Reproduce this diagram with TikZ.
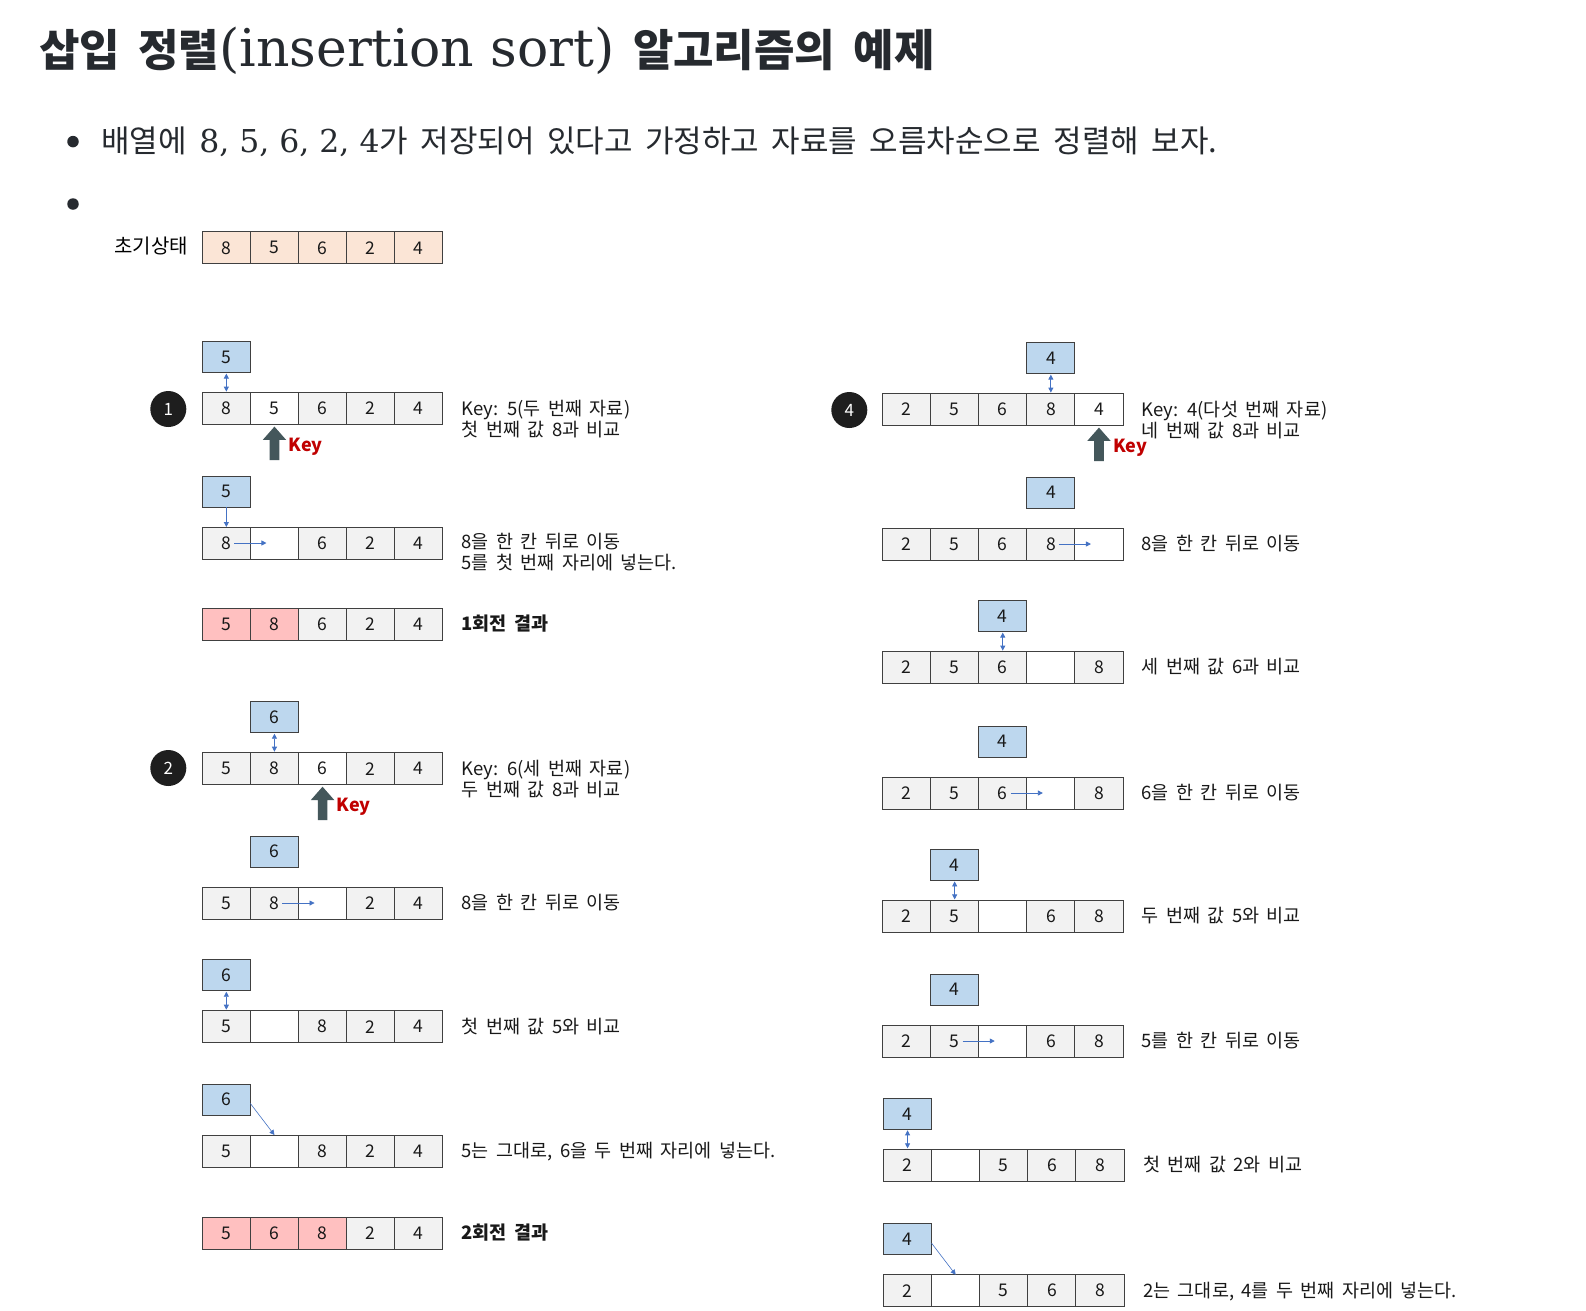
\documentclass[tikz,border=0pt]{standalone}
\usepackage{fontspec}
\usetikzlibrary{arrows.meta,calc}
\setmainfont{Noto Sans CJK KR}[WordSpace=1.8]
\newfontfamily\serifL{DejaVu Serif}
\newfontfamily\krtitle{Noto Sans CJK KR}
\definecolor{cg}{HTML}{F2F2F2}
\definecolor{cp}{HTML}{FBE5D6}
\definecolor{cr}{HTML}{FFC0C0}
\definecolor{cw}{HTML}{FFFFFF}
\definecolor{kbfill}{HTML}{BDD7EE}
\definecolor{bdcol}{HTML}{404040}
\definecolor{arcol}{HTML}{44575B}
\definecolor{keyred}{HTML}{C00000}
\definecolor{bluecol}{HTML}{4472C4}
\definecolor{titlecol}{HTML}{262A2F}
\definecolor{circcol}{HTML}{1E1E1E}
\tikzset{
  cell/.style={draw=bdcol, line width=0.9pt, minimum width=48.1pt, minimum height=32pt,
    inner sep=0pt, outer sep=0pt, font=\fontsize{17.5}{20}\selectfont, text=black!90},
  keybox/.style={cell, fill=kbfill, minimum height=31pt},
  bluearr/.style={draw=bluecol, line width=0.8pt, -{Triangle[length=5pt,width=5pt]}},
  bluedbl/.style={draw=bluecol, line width=0.8pt,
    {Triangle[length=5pt,width=5pt]}-{Triangle[length=5pt,width=5pt]},
    shorten <=1pt, shorten >=1pt},
  lbl/.style={anchor=base west, inner sep=0pt, font=\fontsize{18.5}{20}\selectfont, text=black!90},
  lblb/.style={lbl, font=\fontsize{18.5}{20}\selectfont\bfseries},
  keylabel/.style={anchor=west, inner sep=0pt, text=keyred, font=\fontsize{18}{20}\selectfont\bfseries},
  numc/.style={circle, fill=circcol, minimum size=36pt, inner sep=0pt, text=white,
    font=\fontsize{17}{20}\selectfont},
  bulletdot/.style={circle, fill=titlecol, minimum size=11.5pt, inner sep=0pt}
}
\newcommand\arrrow[4]{%
  \foreach \v/\f [count=\i] in {#4}{%
    \node[cell, fill=\f] (#1c\i) at ({#2+(\i-0.5)*48.1}, #3) {\v};
  }%
}
\newcommand\keyb[5]{%
  \node[keybox] (#1k) at ({#2+(#3-0.5)*48.1}, {#4-51.5}) {#5};
}
\newcommand\keyarrow[2]{%
  \fill[arcol, shift={(#1.south)}] (0,2) -- (11.7,15.3) -- (4.8,15.3) -- (4.8,35.5)
    -- (-4.8,35.5) -- (-4.8,15.3) -- (-11.7,15.3) -- cycle;
  \node[keylabel] (#2) at ($(#1.south)+(14,22)$) {Key};
}
\begin{document}
\begin{tikzpicture}[x=1pt,y=-1pt]
\fill[white] (0,0) rectangle (1586,1310);
\useasboundingbox (0,0) rectangle (1586,1310);

% title
\node[anchor=base west, inner sep=0pt, text=titlecol] (title) at (39,66)
  {\fontsize{44}{50}\selectfont\bfseries 삽입 정렬{\serifL\mdseries\fontsize{52}{50}\selectfont(insertion sort)} 알고리즘의 예제};

% bullets
\node[bulletdot] (bd1) at (73,141.6) {};
\node[bulletdot] (bd2) at (73,204) {};
\node[anchor=base west, inner sep=0pt, text=titlecol] (btext) at (101,152.5)
  {\fontsize{31}{34}\selectfont 배열에 {\serifL\fontsize{31.5}{34}\selectfont 8, 5, 6, 2, 4}가 저장되어 있다고 가정하고 자료를 오름차순으로 정렬해 보자.};

% initial state
\node[anchor=east, inner sep=0pt, font=\fontsize{20}{22}\selectfont] (init) at (188,246.5) {초기상태};
\arrrow{L0}{202.3}{247.8}{8/cp,5/cp,6/cp,2/cp,4/cp}

% ---------- left column ----------
% pass 1
\node[numc] (n1) at (168.3,409) {1};
\arrrow{L1}{202.3}{408.6}{8/cg,5/cw,6/cg,2/cg,4/cg}
\keyb{L1}{202.3}{1}{408.6}{5}
\draw[bluedbl] (L1k.south) -- (L1c1.north);
\keyarrow{L1c2}{L1key}
\node[lbl] (L1t1) at (461.5,415) {Key: 5(두 번째 자료)};
\node[lbl] (L1t2) at (461.5,436) {첫 번째 값 8과 비교};

\arrrow{L2}{202.3}{543}{8/cg,{}/cw,6/cg,2/cg,4/cg}
\keyb{L2}{202.3}{1}{543}{5}
\draw[bluearr] (L2k.south) -- (L2c1.north);
\draw[bluearr] ($(L2c1.center)+(8,0)$) -- ($(L2c2.center)+(-8,0)$);
\node[lbl] (L2t1) at (461.5,548.5) {8을 한 칸 뒤로 이동};
\node[lbl] (L2t2) at (461.5,569.5) {5를 첫 번째 자리에 넣는다.};

\arrrow{L3}{202.3}{624}{5/cr,8/cr,6/cg,2/cg,4/cg}
\node[lblb] (L3t) at (461.5,630.3) {1회전 결과};

% pass 2
\node[numc] (n2) at (168.3,768) {2};
\arrrow{L4}{202.3}{768.7}{5/cg,8/cg,6/cw,2/cg,4/cg}
\keyb{L4}{202.3}{2}{768.7}{6}
\draw[bluedbl] (L4k.south) -- (L4c2.north);
\keyarrow{L4c3}{L4key}
\node[lbl] (L4t1) at (461.5,775) {Key: 6(세 번째 자료)};
\node[lbl] (L4t2) at (461.5,796) {두 번째 값 8과 비교};

\arrrow{L5}{202.3}{903}{5/cg,8/cg,{}/cw,2/cg,4/cg}
\keyb{L5}{202.3}{2}{903}{6}
\draw[bluearr] ($(L5c2.center)+(8,0)$) -- ($(L5c3.center)+(-8,0)$);
\node[lbl] (L5t) at (461.5,909.3) {8을 한 칸 뒤로 이동};

\arrrow{L6}{202.3}{1026.7}{5/cg,{}/cw,8/cg,2/cg,4/cg}
\keyb{L6}{202.3}{1}{1026.7}{6}
\draw[bluedbl] (L6k.south) -- (L6c1.north);
\node[lbl] (L6t) at (461.5,1033) {첫 번째 값 5와 비교};

\arrrow{L7}{202.3}{1151}{5/cg,{}/cw,8/cg,2/cg,4/cg}
\keyb{L7}{202.3}{1}{1151}{6}
\draw[bluearr, line width=0.6pt] ($(L7k.east)+(0,4)$) -- (L7c2.north);
\node[lbl] (L7t) at (461.5,1157.3) {5는 그대로, 6을 두 번째 자리에 넣는다.};

\arrrow{L8}{202.3}{1233}{5/cr,6/cr,8/cr,2/cg,4/cg}
\node[lblb] (L8t) at (461.5,1239.3) {2회전 결과};

% ---------- right column ----------
\node[numc] (n4) at (849.3,410) {4};
\arrrow{R1}{882.5}{409.6}{2/cg,5/cg,6/cg,8/cg,4/cw}
\keyb{R1}{882.5}{4}{409.6}{4}
\draw[bluedbl] (R1k.south) -- (R1c4.north);
\keyarrow{R1c5}{R1key}
\node[lbl] (R1t1) at (1141.5,416) {Key: 4(다섯 번째 자료)};
\node[lbl] (R1t2) at (1141.5,437) {네 번째 값 8과 비교};

\arrrow{R2}{882.5}{544}{2/cg,5/cg,6/cg,8/cg,{}/cw}
\keyb{R2}{882.5}{4}{544}{4}
\draw[bluearr] ($(R2c4.center)+(8,0)$) -- ($(R2c5.center)+(-8,0)$);
\node[lbl] (R2t) at (1141.5,550.3) {8을 한 칸 뒤로 이동};

\arrrow{R3}{882.5}{667.6}{2/cg,5/cg,6/cg,{}/cw,8/cg}
\keyb{R3}{882.5}{3}{667.6}{4}
\draw[bluedbl] (R3k.south) -- (R3c3.north);
\node[lbl] (R3t) at (1141.5,673.9) {세 번째 값 6과 비교};

\arrrow{R4}{882.5}{793}{2/cg,5/cg,6/cg,{}/cw,8/cg}
\keyb{R4}{882.5}{3}{793}{4}
\draw[bluearr] ($(R4c3.center)+(8,0)$) -- ($(R4c4.center)+(-8,0)$);
\node[lbl] (R4t) at (1141.5,799.3) {6을 한 칸 뒤로 이동};

\arrrow{R5}{882.5}{916.4}{2/cg,5/cg,{}/cw,6/cg,8/cg}
\keyb{R5}{882.5}{2}{916.4}{4}
\draw[bluedbl] (R5k.south) -- (R5c2.north);
\node[lbl] (R5t) at (1141.5,922.7) {두 번째 값 5와 비교};

\arrrow{R6}{882.5}{1041}{2/cg,5/cg,{}/cw,6/cg,8/cg}
\keyb{R6}{882.5}{2}{1041}{4}
\draw[bluearr] ($(R6c2.center)+(8,0)$) -- ($(R6c3.center)+(-8,0)$);
\node[lbl] (R6t) at (1141.5,1047.3) {5를 한 칸 뒤로 이동};

\arrrow{R7}{883.5}{1165.3}{2/cg,{}/cw,5/cg,6/cg,8/cg}
\keyb{R7}{883.5}{1}{1165.3}{4}
\draw[bluedbl] (R7k.south) -- (R7c1.north);
\node[lbl] (R7t) at (1143,1171.6) {첫 번째 값 2와 비교};

\arrrow{R8}{883.5}{1290.7}{2/cg,{}/cw,5/cg,6/cg,8/cg}
\keyb{R8}{883.5}{1}{1290.7}{4}
\draw[bluearr, line width=0.6pt] ($(R8k.east)+(0,4)$) -- (R8c2.north);
\node[lbl] (R8t) at (1143,1297) {2는 그대로, 4를 두 번째 자리에 넣는다.};
\end{tikzpicture}
\end{document}
